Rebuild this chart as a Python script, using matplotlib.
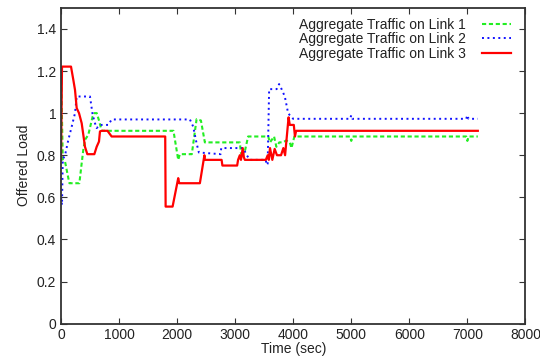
import matplotlib
matplotlib.use('Agg')
import matplotlib.pyplot as plt
from matplotlib.ticker import FormatStrFormatter

plt.rcParams['font.family'] = ['Liberation Sans', 'DejaVu Sans']
plt.rcParams['font.size'] = 10
plt.rcParams['text.color'] = '#222222'
plt.rcParams['axes.labelcolor'] = '#222222'
plt.rcParams['xtick.labelcolor'] = '#222222'
plt.rcParams['ytick.labelcolor'] = '#222222'

# Link 1 (green, dashed)
t1 = [0, 15, 30, 69, 126, 145, 316, 356, 384, 413, 470, 545, 575, 615, 660, 700,
      1937, 2019, 2047, 2253, 2335, 2410, 2478, 3080, 3100, 3160, 3223, 3568,
      3600, 3670, 3710, 3760, 3820, 3880, 3941, 3970, 4020,
      4980, 5000, 5020, 6980, 7000, 7020, 7180]
v1 = [1.22, 1.0, 0.78, 0.77, 0.691, 0.667, 0.667, 0.762, 0.826, 0.873, 0.897, 0.984, 1.0, 1.0, 0.96, 0.916,
      0.916, 0.778, 0.805, 0.805, 0.971, 0.965, 0.861, 0.861, 0.81, 0.81, 0.889, 0.889,
      0.861, 0.889, 0.84, 0.861, 0.861, 0.87, 0.861, 0.834, 0.889,
      0.889, 0.868, 0.889, 0.889, 0.868, 0.889, 0.889]

# Link 2 (blue, dotted)
t2 = [0, 17, 30, 69, 126, 184, 241, 270, 499, 545, 585, 614, 671, 815, 872,
      2220, 2277, 2335, 2375, 2748, 2760, 3138, 3196, 3253, 3528, 3540, 3560, 3585,
      3714, 3757, 3790, 3855, 3912, 3941, 3999,
      4980, 5000, 5020, 6980, 7000, 7020, 7180]
v2 = [0.6, 0.564, 0.78, 0.80, 0.873, 0.936, 1.0, 1.079, 1.079, 0.992, 0.952, 0.929, 0.944, 0.944, 0.97,
      0.97, 0.936, 0.857, 0.813, 0.805, 0.834, 0.834, 0.802, 0.778, 0.778, 0.754, 0.76, 1.114,
      1.114, 1.138, 1.12, 1.079, 1.0, 0.99, 0.973,
      0.973, 0.99, 0.973, 0.973, 0.99, 0.973, 0.973]

# Link 3 (red, solid)
t3 = [0, 17, 172, 212, 241, 270, 310, 356, 413, 453, 574, 614, 654, 671, 700, 800, 872,
      1795, 1802, 1922, 2019, 2036, 2392, 2470, 2478, 2766, 2780, 3034, 3050, 3080, 3100,
      3130, 3150, 3167, 3528, 3560, 3580, 3600, 3640, 3680, 3720, 3790, 3830, 3860,
      3920, 3940, 4010, 4030, 4050, 7180]
v3 = [0.78, 1.221, 1.221, 1.158, 1.11, 1.024, 1.0, 0.952, 0.84, 0.805, 0.805, 0.84, 0.865, 0.913, 0.916, 0.916, 0.889,
      0.889, 0.556, 0.556, 0.691, 0.667, 0.667, 0.80, 0.778, 0.778, 0.751, 0.751, 0.778, 0.80, 0.778,
      0.834, 0.79, 0.778, 0.778, 0.80, 0.778, 0.834, 0.778, 0.83, 0.80, 0.80, 0.834, 0.80,
      0.98, 0.944, 0.944, 0.889, 0.916, 0.916]

fig = plt.figure(figsize=(5.4, 3.58), dpi=100)
ax = fig.add_axes([0.113, 0.096, 0.86, 0.882])

ax.plot(t1, v1, color='#22ee22', linestyle=(0, (2, 1.3)), linewidth=1.5, label='Aggregate Traffic on Link 1')
ax.plot(t2, v2, color='#1111ff', linestyle=(0, (1, 1.8)), linewidth=1.4, label='Aggregate Traffic on Link 2')
ax.plot(t3, v3, color='#ff0000', linestyle='-', linewidth=1.6, label='Aggregate Traffic on Link 3')

ax.set_xlim(0, 8000)
ax.set_ylim(0, 1.5)
ax.set_xticks(range(0, 8001, 1000))
ax.set_yticks([0, 0.2, 0.4, 0.6, 0.8, 1.0, 1.2, 1.4])
ax.yaxis.set_major_formatter(FormatStrFormatter('%g'))
ax.tick_params(direction='in', top=True, right=True, length=4, labelsize=10, color='#333333')
for s in ax.spines.values():
    s.set_linewidth(1.3)
    s.set_color('#333333')
ax.set_xlabel('Time (sec)', labelpad=0)
ax.set_ylabel('Offered Load', labelpad=4)

ax.legend(loc='upper right', frameon=False, markerfirst=False, handlelength=2.1,
          labelspacing=0.05, handletextpad=1.15, borderaxespad=0.3,
          bbox_to_anchor=(0.99, 1.0))

plt.savefig('out.png')
